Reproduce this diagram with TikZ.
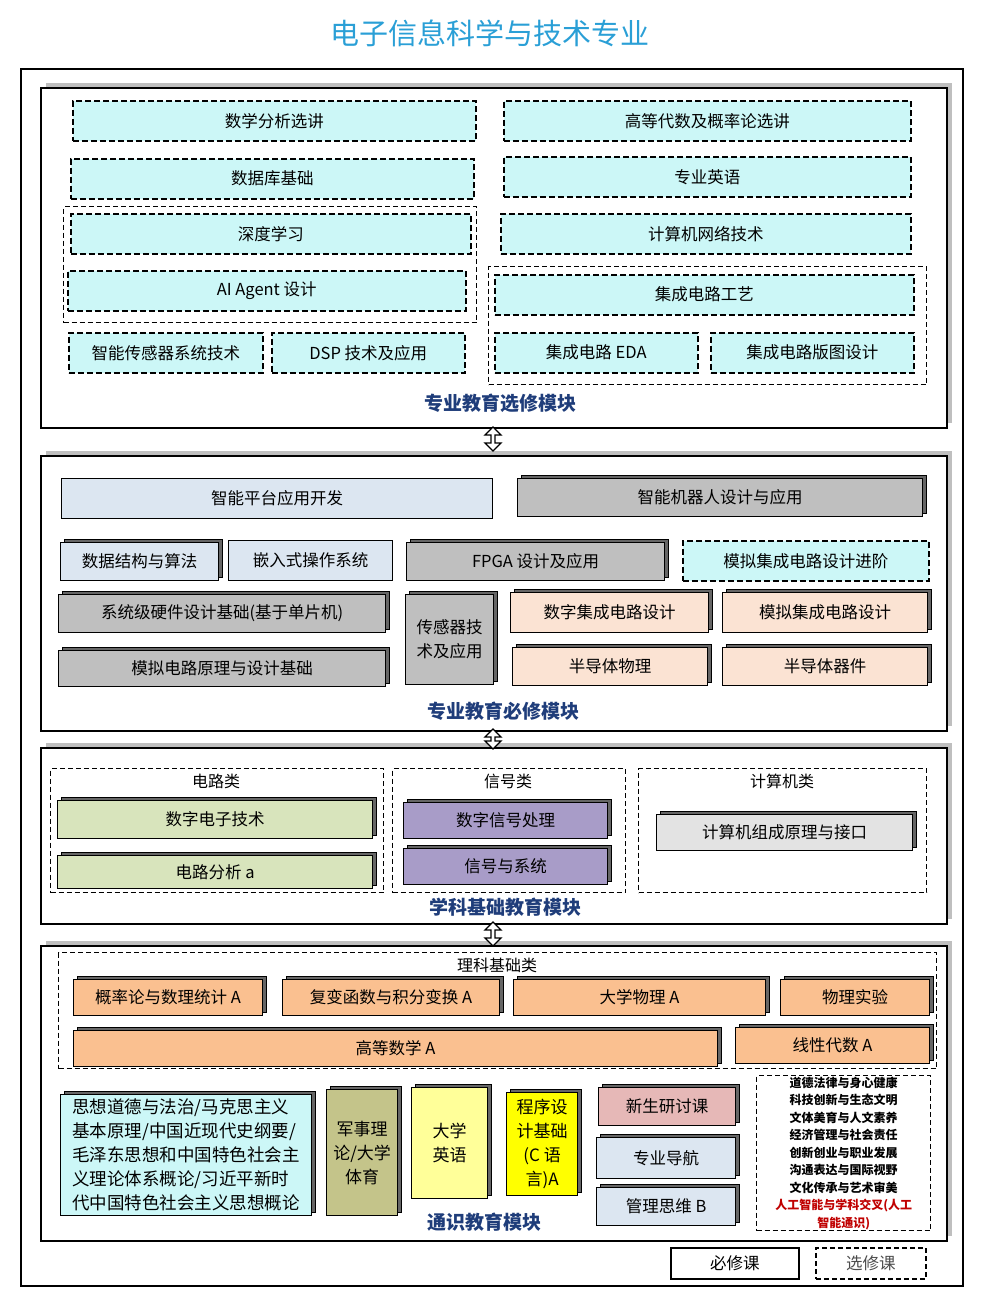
\documentclass[tikz,border=0pt]{standalone}
\usepackage{fontspec}
\setmainfont{Noto Sans CJK SC}
\usetikzlibrary{shadows,shapes.arrows}
\definecolor{ttl}{HTML}{2A9FD6}
\definecolor{mod}{HTML}{1F3D7A}
\definecolor{cy}{HTML}{CCF7F7}
\definecolor{lb}{HTML}{DCE6F1}
\definecolor{gr}{HTML}{BFBFBF}
\definecolor{pe}{HTML}{FBE3D3}
\definecolor{gn}{HTML}{D8E4BC}
\definecolor{pu}{HTML}{A89CC8}
\definecolor{lg}{HTML}{E3E3E3}
\definecolor{or}{HTML}{FAC090}
\definecolor{ol}{HTML}{C4C48A}
\definecolor{ly}{HTML}{FFFF99}
\definecolor{ye}{HTML}{FFFF00}
\definecolor{pk}{HTML}{E6B8B7}
\definecolor{rd}{HTML}{C00000}
\newcommand\cb[7]{\pgfmathsetmacro\ww{#4-#2}\pgfmathsetmacro\hh{#5-#3}%
\node[#6, minimum width=\ww pt, minimum height=\hh pt, anchor=north west, inner sep=0pt] (n#1) at (#2,#3) {#7};}
\begin{document}
\begin{tikzpicture}[x=1pt,y=-1pt,
  every node/.style={font=\fontsize{16.5}{19}\selectfont},
  sb/.style={draw, line width=1.2pt},
  ext/.style={general shadow={shadow xshift=3.5pt, shadow yshift=3.5pt, fill=black!60, draw=black}},
  db/.style={draw, line width=1.5pt, dash pattern=on 6pt off 3pt, fill=cy},
  grp/.style={draw, line width=1.3pt, dash pattern=on 5pt off 3pt},
  frame/.style={draw, line width=1.6pt, fill=white, general shadow={shadow xshift=5pt, shadow yshift=5pt, fill=black!25}},
  ml/.style={font=\fontsize{19}{22}\selectfont\bfseries, text=mod},
  gt/.style={font=\fontsize{16}{18}\selectfont},
  arr/.style={double arrow, draw, line width=1.3pt, fill=white, shape border rotate=90, minimum height=24pt, minimum width=16pt, double arrow head extend=5pt, inner sep=1pt}]
\useasboundingbox (0,0) rectangle (985,1309);
\node[text=ttl, font=\fontsize{29}{32}\selectfont] (title) at (490,33) {电子信息科学与技术专业};
\cb{outer}{20}{68}{962}{1285}{draw, line width=1.6pt}{}
% module 1
\cb{m1}{40}{87}{946}{427}{frame}{}
\cb{g1}{63}{206}{476}{322}{grp}{}
\cb{g2}{488}{266}{926}{384}{grp}{}
\cb{a}{72}{100}{475}{140}{db}{数学分析选讲}
\cb{b}{503}{100}{910}{140}{db}{高等代数及概率论选讲}
\cb{c}{70}{158}{473}{198}{db}{数据库基础}
\cb{d}{503}{156}{910}{196}{db}{专业英语}
\cb{e}{70}{213}{470}{253}{db}{深度学习}
\cb{f}{500}{213}{910}{253}{db}{计算机网络技术}
\cb{g}{67}{270}{465}{310}{db}{AI Agent 设计}
\cb{h}{494}{274}{913}{314}{db}{集成电路工艺}
\cb{i}{68}{332}{262}{372}{db}{智能传感器系统技术}
\cb{j}{271}{332}{464}{372}{db}{DSP 技术及应用}
\cb{k}{494}{332}{697}{372}{db}{集成电路 EDA}
\cb{l}{710}{332}{913}{372}{db}{集成电路版图设计}
\node[ml] (l1) at (500,403) {专业教育选修模块};
% module 2
\cb{m2}{40}{455}{946}{730}{frame}{}
\node[arr] (a1) at (493,439) {};
\cb{p1}{61}{478}{492}{518}{sb, fill=lb}{智能平台应用开发}
\cb{p2}{517}{478}{922}{516}{sb, fill=gr, ext}{智能机器人设计与应用}
\cb{p3}{60}{542}{218}{580}{sb, fill=lb, ext}{数据结构与算法}
\cb{p4}{228}{540}{392}{580}{sb, fill=lb}{嵌入式操作系统}
\cb{p5}{406}{542}{664}{580}{sb, fill=gr, ext}{FPGA 设计及应用}
\cb{p6}{682}{540}{928}{580}{db}{模拟集成电路设计进阶}
\cb{p7}{58}{594}{385}{632}{sb, fill=gr, ext}{系统级硬件设计基础(基于单片机)}
\cb{p8}{405}{594}{493}{684}{sb, fill=gr, ext, align=center, font=\fontsize{16.5}{24}\selectfont}{传感器技\\术及应用}
\cb{p9}{510}{592}{708}{632}{sb, fill=pe, ext}{数字集成电路设计}
\cb{p10}{722}{592}{927}{632}{sb, fill=pe, ext}{模拟集成电路设计}
\cb{p11}{58}{650}{385}{686}{sb, fill=gr, ext}{模拟电路原理与设计基础}
\cb{p12}{512}{647}{707}{685}{sb, fill=pe, ext}{半导体物理}
\cb{p13}{722}{647}{927}{685}{sb, fill=pe, ext}{半导体器件}
\node[ml] (l2) at (503,711) {专业教育必修模块};
% module 3
\cb{m3}{40}{747}{946}{923}{frame}{}
\node[arr, minimum height=20pt] (a2) at (493,739) {};
\cb{q1}{50}{768}{383}{892}{grp}{}
\cb{q2}{392}{768}{625}{892}{grp}{}
\cb{q3}{638}{768}{926}{892}{grp}{}
\node[gt] (t1) at (216,781) {电路类};
\node[gt] (t2) at (508,781) {信号类};
\node[gt] (t3) at (782,781) {计算机类};
\cb{r1}{57}{800}{372}{838}{sb, fill=gn, ext}{数字电子技术}
\cb{r2}{57}{855}{372}{888}{sb, fill=gn, ext}{电路分析 a}
\cb{r3}{403}{802}{607}{838}{sb, fill=pu, ext}{数字信号处理}
\cb{r4}{403}{848}{607}{884}{sb, fill=pu, ext}{信号与系统}
\cb{r5}{656}{814}{912}{850}{sb, fill=lg, ext}{计算机组成原理与接口}
\node[ml] (l3) at (505,907) {学科基础教育模块};
% module 4
\cb{m4}{40}{945}{946}{1240}{frame}{}
\node[arr] (a3) at (493,934) {};
\cb{s0}{58}{952}{936}{1068}{grp}{}
\node[gt] (t4) at (497,965) {理科基础类};
\cb{s1}{73}{979}{262}{1015}{sb, fill=or, ext}{概率论与数理统计 A}
\cb{s2}{282}{979}{499}{1015}{sb, fill=or, ext}{复变函数与积分变换 A}
\cb{s3}{513}{979}{765}{1015}{sb, fill=or, ext}{大学物理 A}
\cb{s4}{780}{979}{929}{1015}{sb, fill=or, ext}{物理实验}
\cb{s5}{73}{1030}{717}{1066}{sb, fill=or, ext}{高等数学 A}
\cb{s6}{735}{1027}{929}{1063}{sb, fill=or, ext}{线性代数 A}
\cb{u1}{60}{1094}{311}{1215}{sb, fill=cy, ext, align=left, font=\fontsize{17.5}{24}\selectfont}{思想道德与法治/马克思主义\\基本原理/中国近现代史纲要/\\毛泽东思想和中国特色社会主\\义理论体系概论/习近平新时\\代中国特色社会主义思想概论}
\cb{u2}{326}{1089}{397}{1215}{sb, fill=ol, ext, align=center, font=\fontsize{17}{24}\selectfont}{军事理\\论/大学\\体育}
\cb{u3}{411}{1087}{487}{1198}{sb, fill=ly, ext, align=center, font=\fontsize{17}{24}\selectfont}{大学\\英语}
\cb{u4}{506}{1092}{577}{1195}{sb, fill=ye, ext, align=center, font=\fontsize{17}{24}\selectfont}{程序设\\计基础\\(C 语\\言)A}
\cb{u5}{598}{1087}{735}{1125}{sb, fill=pk, ext}{新生研讨课}
\cb{u6}{596}{1137}{735}{1178}{sb, fill=lb, ext}{专业导航}
\cb{u7}{596}{1187}{735}{1225}{sb, fill=lb, ext}{管理思维 B}
\cb{u8}{756}{1075}{930}{1230}{grp, align=center, font=\fontsize{12}{17.5}\selectfont\bfseries}{道德法律与身心健康\\科技创新与生态文明\\文体美育与人文素养\\经济管理与社会责任\\创新创业与职业发展\\沟通表达与国际视野\\文化传承与艺术审美\\\textcolor{rd}{人工智能与学科交叉(人工}\\\textcolor{rd}{智能通识)}}
\node[ml] (l4) at (484,1222) {通识教育模块};
% legend
\cb{v1}{670}{1247}{798}{1278}{sb, line width=1.5pt}{必修课}
\cb{v2}{815}{1247}{925}{1278}{grp, line width=1.6pt, text=black!70}{选修课}
\end{tikzpicture}
\end{document}
